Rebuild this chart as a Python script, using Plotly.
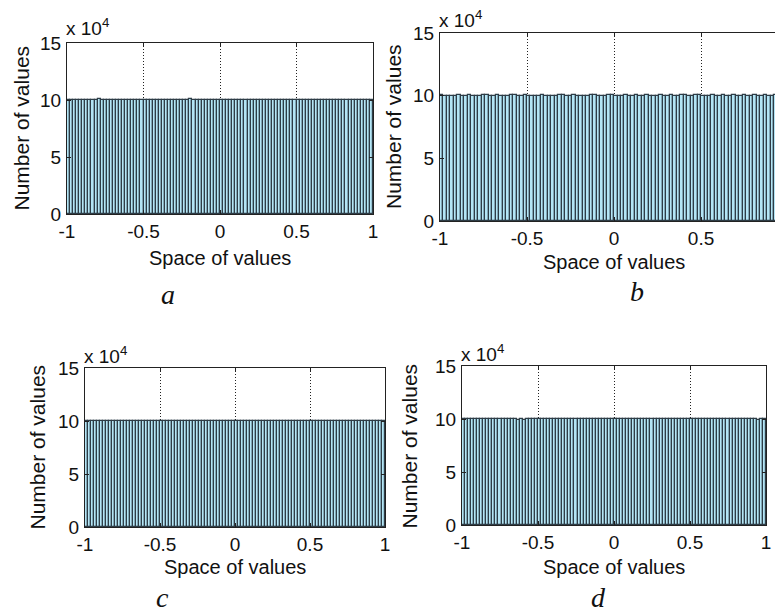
import plotly.graph_objects as go

# ---------------- data (counts in units of 10^4, 100 bins over [-1, 1]) ----------------
bin_left = -1.0
bin_width = 0.02
n_bins = 100

counts_a = [10.00, 9.98, 10.01, 9.99, 10.00, 9.97, 10.01, 10.00, 9.98, 10.03,
            10.10, 10.01, 9.99, 9.97, 10.00, 9.98, 10.01, 9.99, 10.00, 9.96,
            9.98, 10.00, 10.02, 9.99, 9.97, 10.01, 10.00, 9.98, 10.02, 9.99,
            10.00, 9.97, 10.01, 9.98, 9.96, 10.00, 9.99, 10.02, 10.00, 9.98,
            10.12, 10.01, 9.97, 9.99, 10.00, 9.98, 10.01, 9.99, 9.97, 10.00,
            10.02, 9.99, 10.00, 9.98, 10.01, 9.99, 10.00, 9.97, 10.01, 10.00,
            9.98, 10.00, 10.02, 9.99, 10.00, 9.98, 10.01, 9.97, 10.00, 9.99,
            10.01, 9.98, 10.00, 10.02, 9.99, 9.97, 10.00, 10.01, 9.98, 10.00,
            9.99, 10.01, 9.97, 10.00, 9.98, 10.02, 10.00, 9.99, 9.97, 10.01,
            10.00, 9.98, 10.00, 9.99, 10.01, 9.97, 10.00, 9.98, 10.01, 10.00]

counts_b = [10.02, 9.98, 9.97, 9.98, 9.98, 10.03, 9.99, 9.98, 10.02, 9.99,
            10.00, 9.98, 10.03, 10.02, 9.98, 10.01, 10.02, 9.99, 10.00, 9.98,
            10.02, 10.03, 9.99, 10.00, 10.02, 9.98, 10.01, 10.00, 9.98, 10.02,
            10.01, 9.99, 9.98, 10.00, 10.02, 10.03, 9.98, 9.99, 10.02, 10.00,
            10.01, 9.98, 10.00, 10.03, 10.02, 9.99, 10.00, 10.01, 10.03, 10.02,
            10.01, 9.98, 9.99, 10.02, 10.00, 9.98, 10.03, 10.01, 9.99, 10.02,
            10.00, 9.98, 10.01, 10.03, 10.00, 9.99, 10.02, 10.01, 9.98, 10.03,
            10.02, 10.00, 9.99, 10.02, 10.03, 9.98, 10.01, 9.99, 10.02, 10.00,
            9.98, 10.03, 10.01, 9.99, 10.02, 10.00, 9.98, 10.02, 10.01, 9.99,
            10.03, 10.00, 9.98, 10.02, 10.01, 9.99, 10.03, 10.00, 10.02, 9.99]

counts_c = [10.00, 9.99, 10.01, 9.98, 10.00, 9.99, 10.00, 10.01, 9.99, 10.00,
            9.98, 10.00, 10.01, 9.99, 10.00, 9.98, 10.01, 10.00, 9.99, 10.00,
            9.97, 10.00, 9.99, 10.01, 9.98, 10.00, 9.99, 10.01, 10.00, 9.98,
            10.02, 10.00, 9.99, 10.01, 10.00, 9.98, 10.00, 10.04, 10.01, 9.99,
            10.00, 9.98, 10.01, 10.00, 9.99, 10.00, 10.01, 9.99, 10.00, 9.98,
            10.00, 10.01, 9.99, 10.00, 9.98, 10.01, 10.00, 9.99, 10.00, 10.01,
            9.99, 10.00, 9.98, 10.00, 10.01, 9.99, 10.00, 9.98, 10.01, 10.00,
            9.99, 10.00, 10.01, 9.97, 10.00, 9.99, 10.01, 10.00, 9.98, 10.00,
            10.01, 9.99, 10.00, 9.98, 10.00, 10.01, 9.99, 10.00, 10.01, 9.98,
            10.00, 9.99, 10.01, 10.00, 9.99, 10.00, 9.98, 10.01, 10.00, 9.99]

counts_d = [10.00, 10.01, 9.99, 10.00, 10.01, 9.99, 10.00, 10.01, 10.00, 9.99,
            10.00, 10.01, 9.99, 10.00, 10.01, 10.00, 9.99, 10.01, 9.94, 10.00,
            9.95, 10.00, 10.01, 9.99, 10.00, 10.01, 10.04, 9.96, 10.00, 10.01,
            9.99, 10.00, 10.01, 10.00, 9.96, 10.00, 10.01, 9.99, 10.00, 10.01,
            10.00, 9.99, 10.01, 10.00, 9.98, 10.00, 10.01, 9.99, 10.00, 10.01,
            10.00, 9.99, 10.01, 10.00, 9.99, 10.01, 10.00, 9.99, 10.00, 10.01,
            10.00, 9.99, 10.01, 10.00, 9.99, 10.01, 10.00, 9.99, 10.00, 10.01,
            9.99, 10.00, 10.01, 10.00, 9.99, 10.01, 10.00, 9.96, 10.00, 10.01,
            9.99, 10.00, 10.01, 10.00, 9.99, 10.01, 10.00, 9.99, 10.00, 10.01,
            10.00, 9.99, 10.01, 10.00, 9.99, 10.01, 10.00, 9.95, 10.00, 10.01]

y_ticks = [0, 5, 10, 15]
x_ticks = [-1, -0.5, 0, 0.5, 1]
x_tick_text = ["-1", "-0.5", "0", "0.5", "1"]
panel_letters = ["a", "b", "c", "d"]
x_title = "Space of values"
y_title = "Number of values"
exp_label = "x 10<sup>4</sup>"

# ---------------- layout geometry ----------------
W, H = 783, 615
OFF = 8  # page body margin offset (screen px)
FONT = "Liberation Sans, Arial, sans-serif"
SERIF = "Liberation Serif, Times New Roman, serif"


def px(sx):
    return (sx - OFF) / W


def py(sy):
    return 1 - (sy - OFF) / H


# panel screen-pixel boxes: (left, right, top, bottom), x range
panels = [
    dict(box=(67, 373, 43, 214), xr=[-1, 1], ytitle_x=21, xtitle_y=258, letter=(168, 294), exp=(64, 41), right=True),
    dict(box=(440, 783, 33, 221), xr=[-1, 0.971], ytitle_x=394, xtitle_y=262, letter=(637, 291), exp=(437, 33), right=False),
    dict(box=(85, 385, 368, 527), xr=[-1, 1], ytitle_x=37, xtitle_y=567, letter=(162, 597), exp=(82, 369), right=True),
    dict(box=(462, 766, 366, 525), xr=[-1, 1], ytitle_x=409, xtitle_y=567, letter=(598, 597), exp=(459, 367), right=True),
]
all_counts = [counts_a, counts_b, counts_c, counts_d]

centers = [bin_left + bin_width * (i + 0.5) for i in range(n_bins)]

fig = go.Figure()
annotations = []
for k, (p, counts) in enumerate(zip(panels, all_counts)):
    sfx = "" if k == 0 else str(k + 1)
    L, R, T, B = p["box"]
    fig.add_trace(go.Bar(
        x=centers, y=counts, width=bin_width,
        marker=dict(color="#b4e6f6", line=dict(color="#2e3d47", width=1.2)),
        xaxis="x" + sfx, yaxis="y" + sfx, showlegend=False, hoverinfo="skip"))
    fig.layout["xaxis" + sfx] = dict(
        domain=[px(L), min(px(R), 1)], range=p["xr"], anchor="y" + sfx, automargin=False,
        tickvals=x_ticks, ticktext=x_tick_text,
        showgrid=True, gridcolor="#222", griddash="1px,2px", gridwidth=1,
        zeroline=False, showline=True, linecolor="#222", linewidth=1,
        mirror="ticks", ticks="inside", ticklen=4, tickcolor="#222",
        ticklabelstandoff=0,
        tickfont=dict(family=FONT, size=19, color="#111"))
    fig.layout["yaxis" + sfx] = dict(
        domain=[py(B), py(T)], range=[0, 15], anchor="x" + sfx, automargin=False,
        tickvals=y_ticks, showgrid=False, zeroline=False,
        showline=True, linecolor="#222", linewidth=1,
        mirror="ticks" if p["right"] else False, ticks="inside", ticklen=4, tickcolor="#222",
        ticklabelstandoff=1,
        tickfont=dict(family=FONT, size=19, color="#111"))
    # axis titles
    annotations.append(dict(x=px(p["ytitle_x"]), y=py((T + B) / 2), xref="paper", yref="paper",
                            xanchor="center", yanchor="middle",
                            text=y_title, textangle=-90, showarrow=False,
                            font=dict(family=FONT, size=21, color="#111")))
    annotations.append(dict(x=px((L + (R if p["right"] else 788)) / 2), y=py(p["xtitle_y"]),
                            xref="paper", yref="paper", xanchor="center", yanchor="middle",
                            text=x_title, showarrow=False,
                            font=dict(family=FONT, size=20, color="#111")))
    annotations.append(dict(x=px(p["letter"][0]), y=py(p["letter"][1]), xref="paper", yref="paper",
                            xanchor="center", yanchor="middle",
                            text="<i>%s</i>" % panel_letters[k], showarrow=False,
                            font=dict(family=SERIF, size=28, color="#111")))
    annotations.append(dict(x=px(p["exp"][0]), y=py(p["exp"][1]), xref="paper", yref="paper",
                            text=exp_label, showarrow=False, xanchor="left", yanchor="bottom",
                            font=dict(family=FONT, size=19, color="#111")))

fig.update_layout(width=W, height=H, margin=dict(l=0, r=0, t=0, b=0, autoexpand=False),
                  paper_bgcolor="white", plot_bgcolor="white",
                  bargap=0, annotations=annotations)

fig.write_html("out.html")
